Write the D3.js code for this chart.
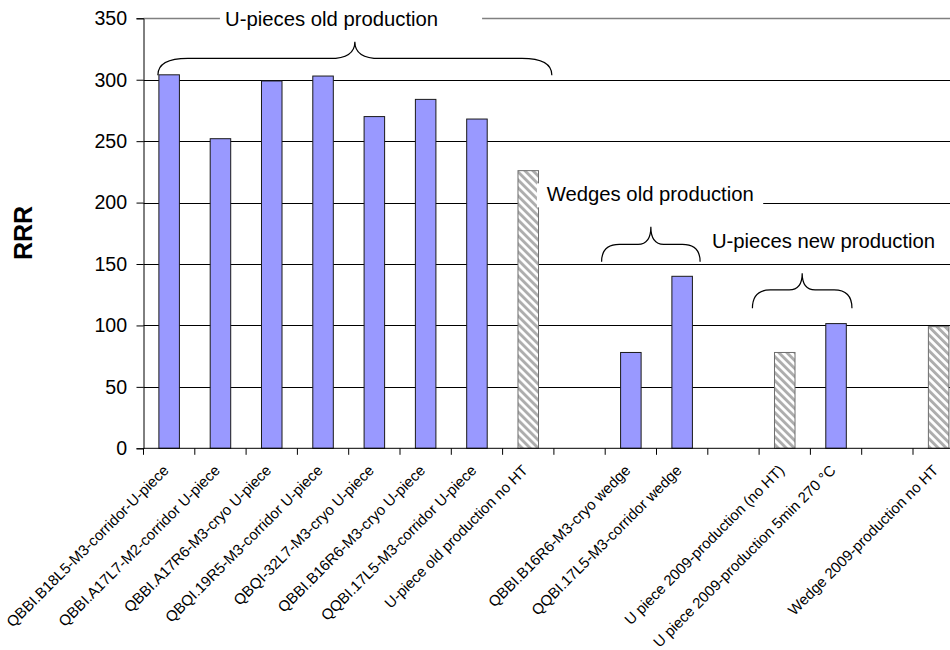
<!DOCTYPE html>
<html>
<head>
<meta charset="utf-8">
<script src="https://cdn.jsdelivr.net/npm/d3@7/dist/d3.min.js"></script>
<style>
  html, body { margin: 0; padding: 0; background: #fff; }
  svg { display: block; font-family: Arial, "Liberation Sans", sans-serif; }
</style>
</head>
<body>
<svg id="chart" width="950" height="650"></svg>
<script>
// Sample names along the x axis (empty strings are spacer slots between groups)
const categories = [
  "QBBI.B18L5-M3-corridor-U-piece",
  "QBBI.A17L7-M2-corridor U-piece",
  "QBBI.A17R6-M3-cryo U-piece",
  "QBQI.19R5-M3-corridor U-piece",
  "QBQI-32L7-M3-cryo U-piece",
  "QBBI.B16R6-M3-cryo U-piece",
  "QQBI.17L5-M3-corridor U-piece",
  "U-piece old production no HT",
  "",
  "QBBI.B16R6-M3-cryo wedge",
  "QQBI.17L5-M3-corridor wedge",
  "",
  "U piece 2009-production (no HT)",
  "U piece 2009-production 5min 270 \u00B0C",
  "",
  "Wedge 2009-production no HT"
];

// RRR of heat-treated samples (solid bars)
const rrrTreated = [304, 252, 299, 303, 270, 284, 268, null, null, 78, 140, null, null, 101.5, null, null];

// RRR of samples without heat treatment (hatched bars)
const rrrNoHT = [null, null, null, null, null, null, null, 226, null, null, null, null, 78, null, null, 99];

// Value axis ticks
const yTicks = [0, 50, 100, 150, 200, 250, 300, 350];

// Group annotations: brace span in slot units, brace heights in RRR units
const groupBraces = [
  { from: 0.28, to: 7.96, base: 303.7, bar: 317.3, tip: 331 },
  { from: 8.93, to: 10.85, base: 151.9, bar: 166, tip: 180.3 },
  { from: 11.87, to: 13.81, base: 114, bar: 128.9, tip: 142.5 }
];
const groupLabels = [
  { text: "U-pieces old production", at: 1.59, value: 343.5, box: [1.49, 6.6] },
  { text: "Wedges old production", at: 7.86, value: 201, box: [7.67, 12.08] },
  { text: "U-pieces new production", at: 11.08, value: 163, box: null }
];

const svg = d3.select("#chart");
const W = 950;
const left = 143.5, slot = 51.3;
const plotRight = left + slot * categories.length;
const y0 = 448.3, yTop = 18.3;

const idx = categories.map((_, i) => i);
const x = d3.scaleBand().domain(idx).range([left, plotRight]).paddingInner(0.6).paddingOuter(0.3);
const slotX = d3.scaleLinear().domain([0, categories.length]).range([left, plotRight]);
const y = d3.scaleLinear().domain([0, 350]).range([y0, yTop]);

// Hatch pattern for bars without heat treatment
const defs = svg.append("defs");
const pat = defs.append("pattern")
  .attr("id", "hatch")
  .attr("patternUnits", "userSpaceOnUse")
  .attr("width", 5.66).attr("height", 5.66)
  .attr("patternTransform", "rotate(-45)");
pat.append("rect").attr("width", 5.66).attr("height", 5.66).attr("fill", "#fff");
pat.append("rect").attr("width", 2.9).attr("height", 5.66).attr("fill", "#adadad");

// Horizontal gridlines
svg.append("g").selectAll("line")
  .data(yTicks.filter(t => t > 0))
  .join("line")
  .attr("x1", left).attr("x2", W)
  .attr("y1", d => Math.round(y(d)) + 0.5).attr("y2", d => Math.round(y(d)) + 0.5)
  .attr("stroke", d => d === 350 ? "#808080" : "#000")
  .attr("stroke-width", d => d === 350 ? 1.6 : 1);

// Bars
const bars = svg.append("g");
bars.selectAll("rect.treated")
  .data(idx.filter(i => rrrTreated[i] != null))
  .join("rect")
  .attr("class", "treated")
  .attr("x", i => x(i))
  .attr("width", x.bandwidth())
  .attr("y", i => y(rrrTreated[i]))
  .attr("height", i => y0 - y(rrrTreated[i]))
  .attr("fill", "#9999ff")
  .attr("stroke", "#1a1a1a")
  .attr("stroke-width", 1);
bars.selectAll("rect.noht")
  .data(idx.filter(i => rrrNoHT[i] != null))
  .join("rect")
  .attr("class", "noht")
  .attr("x", i => x(i))
  .attr("width", x.bandwidth())
  .attr("y", i => y(rrrNoHT[i]))
  .attr("height", i => y0 - y(rrrNoHT[i]))
  .attr("fill", "url(#hatch)")
  .attr("stroke", "#6e6e6e")
  .attr("stroke-width", 1);

// Y axis
const yAxis = svg.append("g")
  .attr("transform", `translate(${left},0)`)
  .call(d3.axisLeft(y).tickValues(yTicks).tickSize(7).tickPadding(9.4));
yAxis.select(".domain").attr("stroke", "#000");
yAxis.selectAll(".tick line").attr("stroke", "#000");
yAxis.selectAll(".tick text")
  .attr("font-size", "19.6px")
  .attr("font-family", "Arial, 'Liberation Sans', sans-serif")
  .attr("fill", "#000");

// X axis line with tick marks between categories
const xg = svg.append("g");
xg.append("line")
  .attr("x1", left).attr("x2", W)
  .attr("y1", y0).attr("y2", y0)
  .attr("stroke", "#000");
xg.selectAll("line.tick")
  .data(d3.range(categories.length + 1))
  .join("line")
  .attr("class", "tick")
  .attr("x1", d => slotX(d)).attr("x2", d => slotX(d))
  .attr("y1", y0).attr("y2", y0 + 6.5)
  .attr("stroke", "#000");
xg.selectAll("text")
  .data(idx.filter(i => categories[i] !== ""))
  .join("text")
  .attr("transform", i => `translate(${x(i) + x.bandwidth() / 2 + 0.5},${y0 + 23}) rotate(-45)`)
  .attr("text-anchor", "end")
  .attr("font-size", "15px")
  .attr("fill", "#000")
  .text(i => categories[i]);

// Axis title
svg.append("text")
  .attr("transform", "translate(32.3,233) rotate(-90)")
  .attr("text-anchor", "middle")
  .attr("font-size", "25px")
  .attr("font-weight", "bold")
  .attr("fill", "#000")
  .text("RRR");

// Group braces
const ann = svg.append("g");
groupBraces.forEach(b => {
  const x0 = slotX(b.from), x1 = slotX(b.to), xc = (x0 + x1) / 2;
  const yb = y(b.base), yh = y(b.bar), yp = y(b.tip);
  const span = x1 - x0;
  const re = Math.min(30, span * 0.18), rm = Math.min(25, span * 0.13);
  const p = d3.path();
  p.moveTo(x0, yb);
  p.quadraticCurveTo(x0, yh, x0 + re, yh);
  p.lineTo(xc - rm, yh);
  p.quadraticCurveTo(xc, yh, xc, yp);
  p.quadraticCurveTo(xc, yh, xc + rm, yh);
  p.lineTo(x1 - re, yh);
  p.quadraticCurveTo(x1, yh, x1, yb);
  ann.append("path")
    .attr("d", p.toString())
    .attr("fill", "none")
    .attr("stroke", "#000")
    .attr("stroke-width", 1.2);
});

// Group labels on white boxes
groupLabels.forEach(l => {
  if (l.box) {
    ann.append("rect")
      .attr("x", slotX(l.box[0])).attr("width", slotX(l.box[1]) - slotX(l.box[0]))
      .attr("y", y(l.value) - 18).attr("height", 24)
      .attr("fill", "#fff");
  }
  ann.append("text")
    .attr("x", slotX(l.at))
    .attr("y", y(l.value))
    .attr("font-size", "20.3px")
    .attr("fill", "#000")
    .text(l.text);
});
</script>
</body>
</html>
